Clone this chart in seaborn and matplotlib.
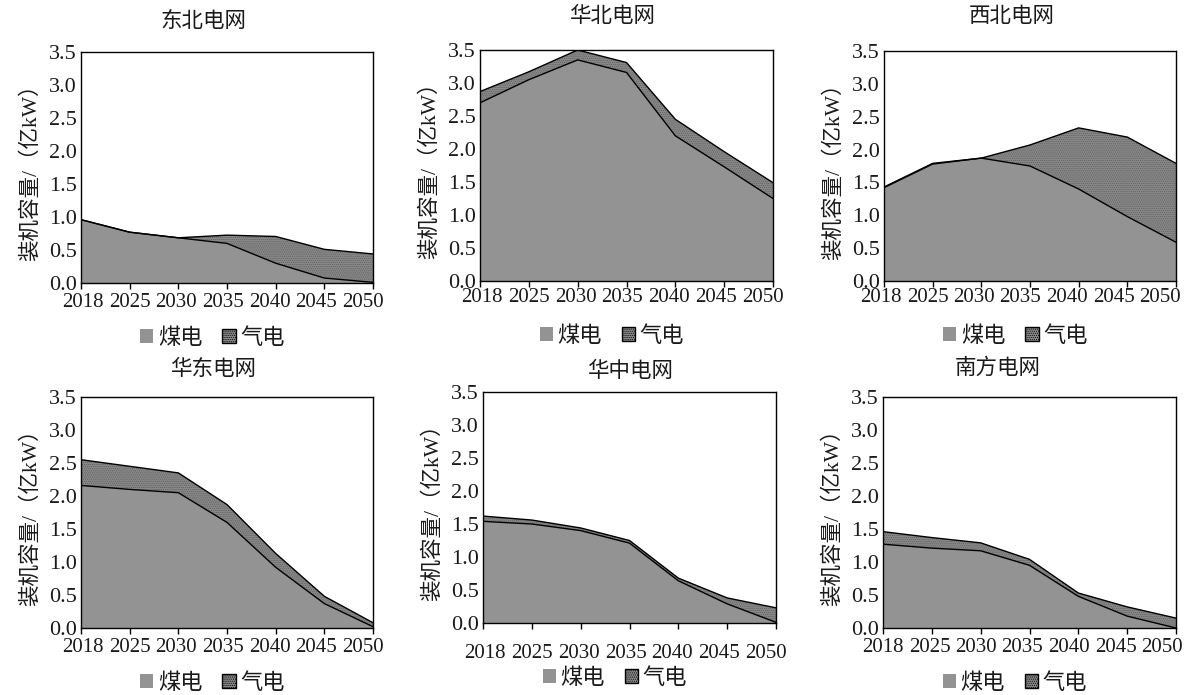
import numpy as np
import pandas as pd
import matplotlib
matplotlib.use("Agg")
import matplotlib.pyplot as plt
import matplotlib.transforms as mtransforms
from matplotlib.patches import Patch
import seaborn as sns

sns.set_theme(style="white")
plt.rcParams['font.family'] = ['Liberation Serif', 'Noto Sans CJK SC', 'DejaVu Sans']
plt.rcParams['hatch.linewidth'] = 0.5
plt.rcParams['axes.unicode_minus'] = False

years = ["2018", "2025", "2030", "2035", "2040", "2045", "2050"]
grids = ["东北电网", "华北电网", "西北电网", "华东电网", "华中电网", "南方电网"]
series_names = ["煤电", "气电"]
y_label = "装机容量/（亿kW）"
y_ticks = [0.0, 0.5, 1.0, 1.5, 2.0, 2.5, 3.0, 3.5]

coal_dongbei = [0.96, 0.77, 0.685, 0.60, 0.30, 0.075, 0.01]
gas_dongbei = [0.0, 0.0, 0.0, 0.125, 0.405, 0.435, 0.43]
coal_huabei = [2.70, 3.05, 3.35, 3.16, 2.20, 1.73, 1.25]
gas_huabei = [0.17, 0.12, 0.15, 0.15, 0.25, 0.23, 0.24]
coal_xibei = [1.42, 1.78, 1.87, 1.75, 1.40, 0.98, 0.59]
gas_xibei = [0.01, 0.01, 0.0, 0.32, 0.93, 1.21, 1.20]
coal_huadong = [2.16, 2.10, 2.05, 1.60, 0.92, 0.37, 0.02]
gas_huadong = [0.39, 0.35, 0.30, 0.27, 0.21, 0.11, 0.06]
coal_huazhong = [1.54, 1.50, 1.40, 1.21, 0.64, 0.29, 0.01]
gas_huazhong = [0.08, 0.06, 0.04, 0.04, 0.04, 0.09, 0.22]
coal_nanfang = [1.27, 1.21, 1.17, 0.95, 0.48, 0.18, 0.0]
gas_nanfang = [0.19, 0.16, 0.12, 0.09, 0.05, 0.14, 0.15]

coal_all = [coal_dongbei, coal_huabei, coal_xibei, coal_huadong, coal_huazhong, coal_nanfang]
gas_all = [gas_dongbei, gas_huabei, gas_xibei, gas_huadong, gas_huazhong, gas_nanfang]

W, H = 1193, 695
fig = plt.figure(figsize=(W / 100, H / 100), dpi=100)
fig.patch.set_facecolor("white")

# axes boxes in pixels: left, top, right, bottom
boxes = [
    (81, 52, 373, 283),
    (480, 50, 773, 281),
    (884, 51, 1176, 281),
    (81, 397, 373, 628),
    (483, 392, 776, 623),
    (883, 397, 1176, 628),
]
title_px = [(203, 22), (612, 17), (1012, 17), (213, 370), (630, 372), (998, 368)]
first_shift = [2, 2, -3, 2, 2, 0]
last_shift = [-10, -10, -16, -10, -10, -14]
xlab_pad = [3, 1, 1, 3, 11, 3]

coal_color = "#939393"
gas_color = "#888888"
hatch_color = "#5e5e5e"

for i, (l, t, r, b) in enumerate(boxes):
    ax = fig.add_axes([l / W, (H - b) / H, (r - l) / W, (b - t) / H])
    coal = np.array(coal_all[i])
    gas = np.array(gas_all[i])
    total = coal + gas
    x = np.arange(len(years))
    df = pd.DataFrame({"x": x, "coal": coal, "total": total})

    ax.fill_between(df["x"], 0, df["coal"], facecolor=coal_color, edgecolor="none", zorder=1)
    ax.fill_between(df["x"], df["coal"], df["total"], facecolor=gas_color,
                    edgecolor=hatch_color, hatch="........", linewidth=0, zorder=1)
    sns.lineplot(data=df, x="x", y="coal", ax=ax, color="black", linewidth=1.0, zorder=3)
    sns.lineplot(data=df, x="x", y="total", ax=ax, color="black", linewidth=1.0, zorder=3)

    ax.set_xlim(0, len(years) - 1)
    ax.set_ylim(0, 3.5)
    ax.set_xticks(x)
    ax.set_xticklabels(years)
    ax.set_yticks(y_ticks)
    ax.set_yticklabels([f"{v:.1f}" for v in y_ticks])
    ax.tick_params(axis="x", direction="out", length=4, width=1, color="black",
                   labelsize=15, pad=xlab_pad[i], bottom=True)
    ax.tick_params(axis="y", length=0, labelsize=16, pad=3)
    for lab in ax.get_xticklabels() + ax.get_yticklabels():
        lab.set_color("#1a1a1a")
    xl = ax.get_xticklabels()
    n = len(xl)
    for k, lab in enumerate(xl):
        dx = first_shift[i] + (last_shift[i] - first_shift[i]) * k / (n - 1)
        lab.set_transform(lab.get_transform() +
                          mtransforms.ScaledTranslation(dx / 100, 0, fig.dpi_scale_trans))
    for sp in ax.spines.values():
        sp.set_visible(True)
        sp.set_color("black")
        sp.set_linewidth(1.0)
    ax.set_xlabel("")
    ax.set_ylabel(y_label, fontsize=15.5, labelpad=6, color="#1a1a1a")

    tx, ty = title_px[i]
    fig.text(tx / W, (H - ty) / H, grids[i], ha="center", va="center",
             fontsize=15.5, color="#1a1a1a")

    handles = [
        Patch(facecolor=coal_color, edgecolor="none", label=series_names[0]),
        Patch(facecolor=gas_color, edgecolor="black", hatch="........", linewidth=1.0,
              label=series_names[1]),
    ]
    leg = ax.legend(handles=handles, loc="center", bbox_to_anchor=(0.45, -0.24),
                    ncol=2, frameon=False, fontsize=16, handlelength=0.6,
                    handleheight=0.6, handletextpad=0.2, columnspacing=0.9)
    for txt in leg.get_texts():
        txt.set_color("#1a1a1a")

fig.savefig("out.png", dpi=100, facecolor="white")
